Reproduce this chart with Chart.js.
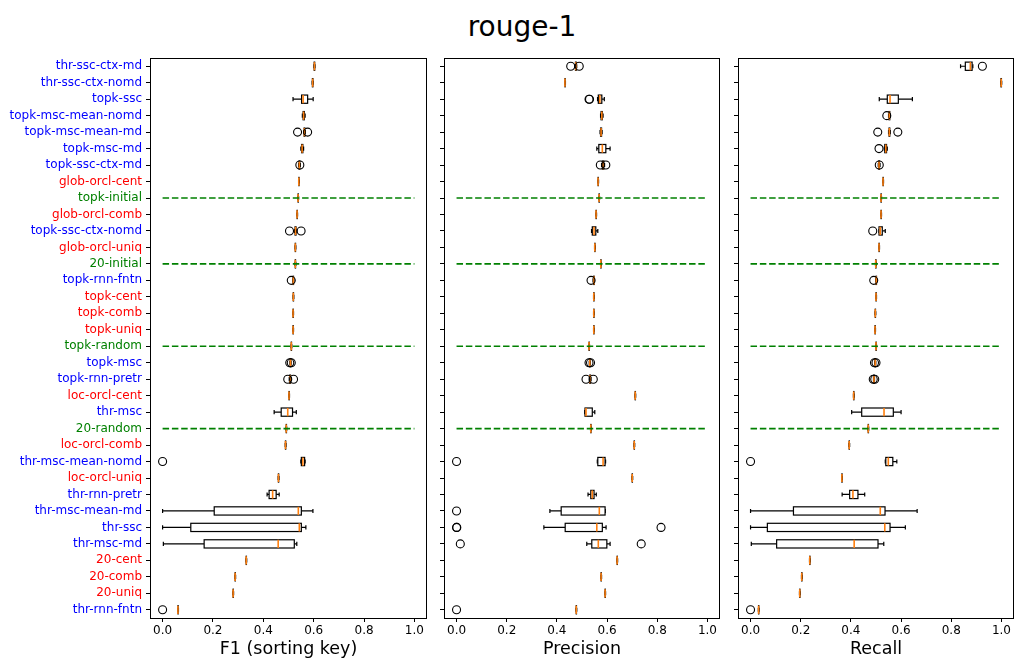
<!DOCTYPE html>
<html>
<head>
<meta charset="utf-8">
<script src="https://cdn.jsdelivr.net/npm/chart.js@4"></script>
<style>
body { margin: 0; background: #fff; width: 1014px; height: 660px; overflow: hidden; position: relative; font-family: "DejaVu Sans", sans-serif; }
#title { position: absolute; left: 15px; width: 1014px; top: 12px; line-height: 30px; text-align: center; font-size: 28px; color: #000; }
canvas { position: absolute; top: 0; }
</style>
</head>
<body>
<div id="title">rouge-1</div>
<canvas id="f1Chart" width="440" height="660" style="left:0px"></canvas>
<canvas id="precChart" width="300" height="660" style="left:430px"></canvas>
<canvas id="recChart" width="300" height="660" style="left:724px"></canvas>
<script>
const categories = [
    'thr-ssc-ctx-md', 'thr-ssc-ctx-nomd', 'topk-ssc', 'topk-msc-mean-nomd', 'topk-msc-mean-md',
    'topk-msc-md', 'topk-ssc-ctx-md', 'glob-orcl-cent', 'topk-initial', 'glob-orcl-comb',
    'topk-ssc-ctx-nomd', 'glob-orcl-uniq', '20-initial', 'topk-rnn-fntn', 'topk-cent',
    'topk-comb', 'topk-uniq', 'topk-random', 'topk-msc', 'topk-rnn-pretr',
    'loc-orcl-cent', 'thr-msc', '20-random', 'loc-orcl-comb', 'thr-msc-mean-nomd',
    'loc-orcl-uniq', 'thr-rnn-pretr', 'thr-msc-mean-md', 'thr-ssc', 'thr-msc-md',
    '20-cent', '20-comb', '20-uniq', 'thr-rnn-fntn'
];
const labelColors = [
    'blue', 'blue', 'blue', 'blue', 'blue', 'blue', 'blue', 'red', 'green', 'red',
    'blue', 'red', 'green', 'blue', 'red', 'red', 'red', 'green', 'blue', 'blue',
    'red', 'blue', 'green', 'red', 'blue', 'red', 'blue', 'blue', 'blue', 'blue',
    'red', 'red', 'red', 'blue'
];
const baselineRows = ['topk-initial', '20-initial', 'topk-random', '20-random'];
const xTicks = [0.0, 0.2, 0.4, 0.6, 0.8, 1.0];

// [low whisker, q1, median, q3, high whisker]
const f1Stats = [
    [0.601, 0.602, 0.603, 0.604, 0.605], [0.594, 0.595, 0.596, 0.597, 0.598],
    [0.518, 0.552, 0.558, 0.576, 0.598], [0.555, 0.558, 0.560, 0.563, 0.566],
    [0.560, 0.562, 0.563, 0.565, 0.567], [0.549, 0.552, 0.554, 0.557, 0.560],
    [0.540, 0.542, 0.543, 0.545, 0.547], [0.540, 0.541, 0.541, 0.542, 0.543],
    [0.537, 0.538, 0.538, 0.539, 0.540], [0.533, 0.534, 0.534, 0.535, 0.536],
    [0.524, 0.526, 0.528, 0.530, 0.533], [0.526, 0.527, 0.527, 0.528, 0.529],
    [0.526, 0.527, 0.527, 0.528, 0.529], [0.517, 0.518, 0.519, 0.520, 0.521],
    [0.518, 0.519, 0.519, 0.520, 0.521], [0.517, 0.518, 0.518, 0.519, 0.520],
    [0.517, 0.518, 0.518, 0.519, 0.520], [0.510, 0.511, 0.511, 0.512, 0.513],
    [0.506, 0.507, 0.508, 0.509, 0.510], [0.503, 0.505, 0.506, 0.508, 0.510],
    [0.501, 0.502, 0.502, 0.503, 0.504], [0.443, 0.471, 0.497, 0.516, 0.531],
    [0.490, 0.491, 0.491, 0.492, 0.493], [0.487, 0.488, 0.488, 0.489, 0.490],
    [0.549, 0.551, 0.557, 0.564, 0.566], [0.459, 0.460, 0.460, 0.461, 0.462],
    [0.415, 0.423, 0.437, 0.451, 0.463], [0.000, 0.205, 0.539, 0.551, 0.597],
    [0.000, 0.112, 0.543, 0.551, 0.569], [0.003, 0.165, 0.459, 0.523, 0.533],
    [0.331, 0.332, 0.332, 0.333, 0.334], [0.287, 0.288, 0.288, 0.289, 0.290],
    [0.279, 0.280, 0.280, 0.281, 0.282], [0.060, 0.061, 0.061, 0.062, 0.063]
];
const f1Outliers = [
    ['topk-msc-mean-md', 0.536], ['topk-msc-mean-md', 0.576], ['topk-ssc-ctx-md', 0.545],
    ['topk-ssc-ctx-nomd', 0.504], ['topk-ssc-ctx-nomd', 0.550], ['topk-rnn-fntn', 0.511],
    ['topk-msc', 0.505], ['topk-msc', 0.511], ['topk-rnn-pretr', 0.497], ['topk-rnn-pretr', 0.520],
    ['thr-msc-mean-nomd', 0.0], ['thr-rnn-fntn', 0.0]
];

const precStats = [
    [0.472, 0.474, 0.475, 0.477, 0.479], [0.431, 0.432, 0.432, 0.433, 0.434],
    [0.562, 0.565, 0.571, 0.579, 0.589], [0.574, 0.576, 0.579, 0.581, 0.584],
    [0.572, 0.574, 0.576, 0.578, 0.580], [0.559, 0.567, 0.581, 0.595, 0.612],
    [0.578, 0.581, 0.584, 0.587, 0.590], [0.563, 0.564, 0.564, 0.565, 0.566],
    [0.567, 0.568, 0.568, 0.569, 0.570], [0.555, 0.556, 0.556, 0.557, 0.558],
    [0.538, 0.541, 0.548, 0.555, 0.563], [0.550, 0.551, 0.551, 0.552, 0.553],
    [0.574, 0.575, 0.575, 0.576, 0.577], [0.544, 0.546, 0.548, 0.549, 0.550],
    [0.546, 0.547, 0.547, 0.548, 0.549], [0.546, 0.547, 0.547, 0.548, 0.549],
    [0.546, 0.547, 0.547, 0.548, 0.549], [0.527, 0.528, 0.528, 0.529, 0.530],
    [0.529, 0.530, 0.531, 0.532, 0.533], [0.529, 0.531, 0.532, 0.534, 0.536],
    [0.711, 0.712, 0.712, 0.713, 0.714], [0.511, 0.512, 0.516, 0.541, 0.551],
    [0.534, 0.535, 0.535, 0.536, 0.537], [0.707, 0.708, 0.708, 0.709, 0.710],
    [0.561, 0.563, 0.584, 0.592, 0.594], [0.699, 0.700, 0.700, 0.701, 0.702],
    [0.524, 0.535, 0.541, 0.548, 0.557], [0.372, 0.417, 0.569, 0.592, 0.593],
    [0.348, 0.433, 0.559, 0.581, 0.596], [0.519, 0.539, 0.565, 0.599, 0.612],
    [0.639, 0.640, 0.640, 0.641, 0.642], [0.575, 0.576, 0.576, 0.577, 0.578],
    [0.591, 0.592, 0.592, 0.593, 0.594], [0.476, 0.477, 0.477, 0.478, 0.479]
];
const precOutliers = [
    ['thr-ssc-ctx-md', 0.455], ['thr-ssc-ctx-md', 0.489], ['topk-ssc', 0.528], ['topk-ssc', 0.530],
    ['topk-ssc-ctx-md', 0.573], ['topk-ssc-ctx-md', 0.595], ['topk-rnn-fntn', 0.536],
    ['topk-msc', 0.528], ['topk-msc', 0.534], ['topk-rnn-pretr', 0.516], ['topk-rnn-pretr', 0.545],
    ['thr-msc-mean-nomd', 0.0], ['thr-msc-mean-md', 0.0], ['thr-ssc', 0.0], ['thr-ssc', 0.001],
    ['thr-ssc', 0.815], ['thr-msc-md', 0.015], ['thr-msc-md', 0.736], ['thr-rnn-fntn', 0.0]
];

const recStats = [
    [0.837, 0.856, 0.876, 0.883, 0.886], [0.997, 0.998, 0.999, 1.000, 1.001],
    [0.513, 0.545, 0.556, 0.589, 0.645], [0.550, 0.552, 0.553, 0.555, 0.557],
    [0.550, 0.552, 0.553, 0.555, 0.557], [0.533, 0.535, 0.539, 0.542, 0.545],
    [0.509, 0.511, 0.512, 0.514, 0.516], [0.527, 0.528, 0.528, 0.529, 0.530],
    [0.519, 0.520, 0.520, 0.521, 0.522], [0.519, 0.520, 0.520, 0.521, 0.522],
    [0.512, 0.512, 0.517, 0.525, 0.537], [0.511, 0.512, 0.512, 0.513, 0.514],
    [0.498, 0.499, 0.499, 0.500, 0.501], [0.499, 0.500, 0.501, 0.502, 0.503],
    [0.499, 0.500, 0.500, 0.501, 0.502], [0.496, 0.497, 0.497, 0.498, 0.499],
    [0.495, 0.496, 0.496, 0.497, 0.498], [0.499, 0.500, 0.500, 0.501, 0.502],
    [0.495, 0.496, 0.497, 0.498, 0.499], [0.490, 0.491, 0.492, 0.493, 0.494],
    [0.410, 0.411, 0.411, 0.412, 0.413], [0.403, 0.443, 0.532, 0.569, 0.600],
    [0.468, 0.469, 0.469, 0.470, 0.471], [0.392, 0.393, 0.393, 0.394, 0.395],
    [0.537, 0.539, 0.549, 0.567, 0.583], [0.363, 0.364, 0.364, 0.365, 0.366],
    [0.365, 0.395, 0.408, 0.428, 0.455], [0.000, 0.171, 0.517, 0.536, 0.664],
    [0.000, 0.067, 0.535, 0.556, 0.617], [0.003, 0.104, 0.413, 0.508, 0.531],
    [0.235, 0.236, 0.236, 0.237, 0.238], [0.203, 0.204, 0.204, 0.205, 0.206],
    [0.195, 0.196, 0.196, 0.197, 0.198], [0.031, 0.032, 0.032, 0.033, 0.034]
];
const recOutliers = [
    ['thr-ssc-ctx-md', 0.924], ['topk-msc-mean-nomd', 0.543], ['topk-msc-mean-md', 0.507],
    ['topk-msc-mean-md', 0.587], ['topk-msc-md', 0.512], ['topk-ssc-ctx-md', 0.513],
    ['topk-ssc-ctx-nomd', 0.487], ['topk-rnn-fntn', 0.491], ['topk-msc', 0.494], ['topk-msc', 0.500],
    ['topk-rnn-pretr', 0.489], ['topk-rnn-pretr', 0.495], ['thr-msc-mean-nomd', 0.0], ['thr-rnn-fntn', 0.0]
];

function boxPlugin(stats) {
    return {
        id: 'boxes',
        beforeDatasetsDraw(chart) {
            const { ctx, scales: { x, y } } = chart;
            const row = Math.abs(y.getPixelForValue(1) - y.getPixelForValue(0));
            const hb = row * 0.25, hc = row * 0.125;
            ctx.save();
            stats.forEach((s, i) => {
                const [lo, q1, med, q3, hi] = s.map(v => x.getPixelForValue(v));
                const cy = y.getPixelForValue(i);
                ctx.lineWidth = 1.2;
                ctx.strokeStyle = '#000';
                ctx.beginPath();
                ctx.moveTo(lo, cy); ctx.lineTo(q1, cy);
                ctx.moveTo(q3, cy); ctx.lineTo(hi, cy);
                ctx.moveTo(lo, cy - hc); ctx.lineTo(lo, cy + hc);
                ctx.moveTo(hi, cy - hc); ctx.lineTo(hi, cy + hc);
                ctx.stroke();
                ctx.fillStyle = '#fff';
                ctx.fillRect(q1, cy - hb, q3 - q1, 2 * hb);
                ctx.strokeRect(q1, cy - hb, q3 - q1, 2 * hb);
                ctx.lineWidth = 1.6;
                ctx.strokeStyle = '#ff7f0e';
                ctx.beginPath();
                ctx.moveTo(med, cy - hb); ctx.lineTo(med, cy + hb);
                ctx.stroke();
            });
            ctx.restore();
        },
        afterDraw(chart) {
            const { ctx, chartArea: a } = chart;
            ctx.save();
            ctx.strokeStyle = '#000';
            ctx.lineWidth = 1;
            ctx.strokeRect(Math.round(a.left) + 0.5, Math.round(a.top) + 0.5,
                Math.round(a.right - a.left) - 1, Math.round(a.bottom - a.top));
            ctx.restore();
        }
    };
}

function makeChart(id, title, stats, outliers, yWidth, padRight, showLabels) {
    const datasets = [{
        data: outliers.map(([cat, v]) => ({ x: v, y: cat })),
        pointStyle: 'circle',
        pointRadius: 4,
        borderColor: '#000',
        borderWidth: 1.1,
        backgroundColor: 'rgba(0,0,0,0)'
    }];
    baselineRows.forEach(cat => {
        datasets.push({
            data: [{ x: 0, y: cat }, { x: 1, y: cat }],
            showLine: true,
            pointRadius: 0,
            borderColor: '#008000',
            borderWidth: 1.6,
            borderDash: [6.5, 2.8]
        });
    });
    return new Chart(document.getElementById(id), {
        type: 'scatter',
        data: { datasets },
        plugins: [boxPlugin(stats)],
        options: {
            responsive: false,
            animation: false,
            layout: { padding: { top: 58, right: padRight, left: 0, bottom: 0 } },
            plugins: { legend: { display: false }, tooltip: { enabled: false } },
            scales: {
                x: {
                    type: 'linear',
                    min: -0.05,
                    max: 1.05,
                    afterBuildTicks: s => { s.ticks = xTicks.map(v => ({ value: v })); },
                    afterFit: s => { s.height = 42; },
                    border: { display: false },
                    grid: { display: true, drawOnChartArea: false, drawTicks: true, tickLength: 4, color: '#000' },
                    ticks: {
                        autoSkip: false,
                        maxRotation: 0,
                        padding: 2,
                        color: '#000',
                        font: { family: 'DejaVu Sans', size: 12 },
                        callback: v => v.toFixed(1)
                    },
                    title: {
                        display: true,
                        text: title,
                        color: '#000',
                        font: { family: 'DejaVu Sans', size: 17.5 },
                        padding: { top: 0, bottom: 0 }
                    }
                },
                y: {
                    type: 'category',
                    labels: categories,
                    offset: true,
                    afterFit: s => { s.width = yWidth; },
                    border: { display: false },
                    grid: { display: true, offset: false, drawOnChartArea: false, drawTicks: true, tickLength: 4, color: '#000' },
                    ticks: {
                        autoSkip: false,
                        padding: 4,
                        color: c => labelColors[c.index],
                        font: { family: 'DejaVu Sans', size: 12 },
                        callback: (v, i) => showLabels ? categories[i] : ''
                    }
                }
            }
        }
    });
}

makeChart('f1Chart', 'F1 (sorting key)', f1Stats, f1Outliers, 150, 13, true);
makeChart('precChart', 'Precision', precStats, precOutliers, 14, 10, false);
makeChart('recChart', 'Recall', recStats, recOutliers, 14, 10, false);
</script>
</body>
</html>
